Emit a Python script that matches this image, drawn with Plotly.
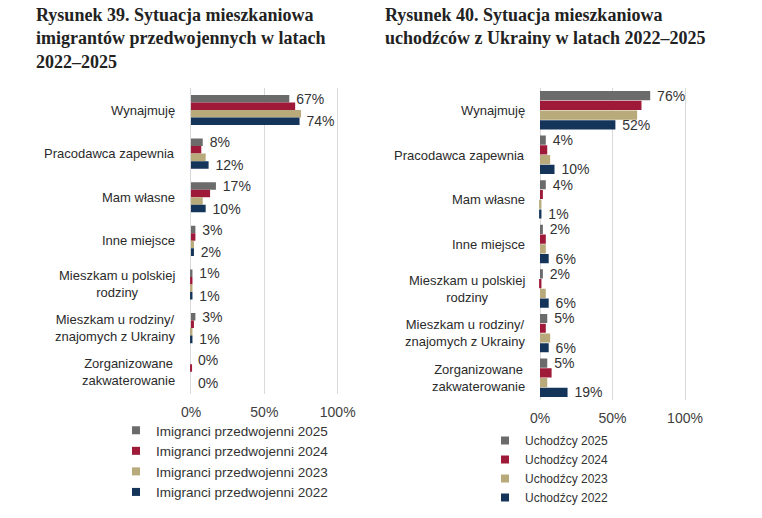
import plotly.graph_objects as go

categories = ["Wynajmuję", "Pracodawca zapewnia", "Mam własne", "Inne miejsce",
              "Mieszkam u polskiej<br>rodziny", "Mieszkam u rodziny/<br>znajomych z Ukrainy",
              "Zorganizowane<br>zakwaterowanie"]

years = ["2025", "2024", "2023", "2022"]

imig_2025 = [67, 8, 17, 3, 1, 3, 0]
imig_2024 = [71, 7, 13, 3, 1, 2, 0.5]
imig_2023 = [75, 10, 8, 2, 1, 1, 0]
imig_2022 = [74, 12, 10, 2, 1, 1, 0]

ukr_2025 = [76, 4, 4, 2, 2, 5, 5]
ukr_2024 = [70, 5, 2, 4, 1, 4, 8]
ukr_2023 = [67, 7, 1, 4, 4, 7, 5]
ukr_2022 = [52, 10, 1, 6, 6, 6, 19]

tick_vals = [0, 50, 100]
tick_text = ["0%", "50%", "100%"]

colors = ["#6b6b6b", "#9e1a38", "#b8aa7a", "#14345a"]

left_series = [imig_2025, imig_2024, imig_2023, imig_2022]
right_series = [ukr_2025, ukr_2024, ukr_2023, ukr_2022]

W, H = 762, 518
SANS = "Liberation Sans, Arial, sans-serif"
SERIF = "Liberation Serif, Times New Roman, serif"

def px_x(p):
    return p / W

def px_y(p):
    return 1 - p / H

fig = go.Figure()

def label_texts(vals, idx):
    if idx in (0, 3):
        return ["\u00a0%d%%" % round(v) for v in vals]
    return [""] * len(vals)

lw, lstep = 0.1725, 0.1725
for i, (vals, col) in enumerate(zip(left_series, colors)):
    fig.add_trace(go.Bar(
        y=categories, x=vals, orientation="h", marker=dict(color=col, line=dict(width=0)),
        width=lw, offset=-0.345 + i * lstep,
        text=label_texts(vals, i), textposition="outside", constraintext="none",
        textfont=dict(family=SANS, size=14, color="#333333"), cliponaxis=False,
        xaxis="x", yaxis="y", showlegend=False, hoverinfo="skip"))

rw, rstep = 0.205, 0.219
for i, (vals, col) in enumerate(zip(right_series, colors)):
    fig.add_trace(go.Bar(
        y=categories, x=vals, orientation="h", marker=dict(color=col, line=dict(width=0)),
        width=rw, offset=-0.4375 + i * rstep,
        text=label_texts(vals, i), textposition="outside", constraintext="none",
        textfont=dict(family=SANS, size=14, color="#333333"), cliponaxis=False,
        xaxis="x2", yaxis="y2", showlegend=False, hoverinfo="skip"))

for y, col in zip(years, colors):
    fig.add_trace(go.Scatter(x=[None], y=[None], mode="markers",
                             marker=dict(symbol="square", size=8, color=col),
                             name="Imigranci przedwojenni " + y, legend="legend",
                             xaxis="x", yaxis="y", hoverinfo="skip"))
for y, col in zip(years, colors):
    fig.add_trace(go.Scatter(x=[None], y=[None], mode="markers",
                             marker=dict(symbol="square", size=8, color=col),
                             name="Uchodźcy " + y, legend="legend2",
                             xaxis="x2", yaxis="y2", hoverinfo="skip"))

PAD = 2  # range padding (percent units) so edge gridlines are drawn
xcommon = dict(range=[-PAD, 100 + PAD], tickvals=tick_vals, ticktext=tick_text,
               showgrid=True, gridcolor="#d9d9d9", gridwidth=1, zeroline=False,
               showline=False, ticks="", ticklabelstandoff=8, automargin=False,
               tickfont=dict(family=SANS, size=14, color="#404040"), fixedrange=True)
ycommon = dict(type="category", categoryorder="array", categoryarray=categories,
               range=[6.5, -0.5], showticklabels=False, showgrid=False, automargin=False,
               zeroline=False, showline=False, ticks="", fixedrange=True)

annotations = []
for c in categories:
    annotations.append(dict(text=c, xref="x", x=0, xanchor="right", xshift=-14,
                            yref="y", y=c, yanchor="middle", align="center", showarrow=False,
                            font=dict(family=SANS, size=13, color="#2b2b2b")))
    annotations.append(dict(text=c, xref="x2", x=0, xanchor="right", xshift=-13,
                            yref="y2", y=c, yanchor="middle", align="center", showarrow=False,
                            font=dict(family=SANS, size=13, color="#2b2b2b")))

annotations.append(dict(text="Rysunek 39. Sytuacja mieszkaniowa<br>imigrantów przedwojennych w latach<br>2022–2025",
                        xref="paper", yref="paper", x=px_x(34), y=px_y(3), xanchor="left", yanchor="top",
                        align="left", showarrow=False,
                        font=dict(family=SERIF, size=18, color="#222222", weight="bold")))
annotations.append(dict(text="Rysunek 40. Sytuacja mieszkaniowa<br>uchodźców z Ukrainy w latach 2022–2025",
                        xref="paper", yref="paper", x=px_x(383), y=px_y(3), xanchor="left", yanchor="top",
                        align="left", showarrow=False,
                        font=dict(family=SERIF, size=18, color="#222222", weight="bold")))

# pixel positions of 0% and 100% in each panel
L0, L100 = 191.0, 337.7
R0, R100 = 540.0, 685.0
kl = (L100 - L0) / 100 * PAD
kr = (R100 - R0) / 100 * PAD

fig.update_layout(
    width=W, height=H, autosize=False,
    margin=dict(l=0, r=0, t=0, b=0, autoexpand=False),
    paper_bgcolor="white", plot_bgcolor="white",
    barmode="overlay",
    xaxis=dict(domain=[px_x(L0 - kl), px_x(L100 + kl)], anchor="y", **xcommon),
    yaxis=dict(domain=[px_y(393.5), px_y(88.2)], anchor="x", **ycommon),
    xaxis2=dict(domain=[px_x(R0 - kr), px_x(R100 + kr)], anchor="y2", **xcommon),
    yaxis2=dict(domain=[px_y(400.3), px_y(88.2)], anchor="x2", **ycommon),
    legend=dict(x=px_x(116), y=px_y(415), xanchor="left", yanchor="top",
                font=dict(family=SANS, size=13.5, color="#333333"),
                bgcolor="rgba(0,0,0,0)", borderwidth=0, itemclick=False, itemdoubleclick=False),
    legend2=dict(x=px_x(485), y=px_y(426), xanchor="left", yanchor="top",
                 font=dict(family=SANS, size=12, color="#333333"),
                 bgcolor="rgba(0,0,0,0)", borderwidth=0, itemclick=False, itemdoubleclick=False),
    annotations=annotations,
)

fig.write_html("out.html", config={"displayModeBar": False})
